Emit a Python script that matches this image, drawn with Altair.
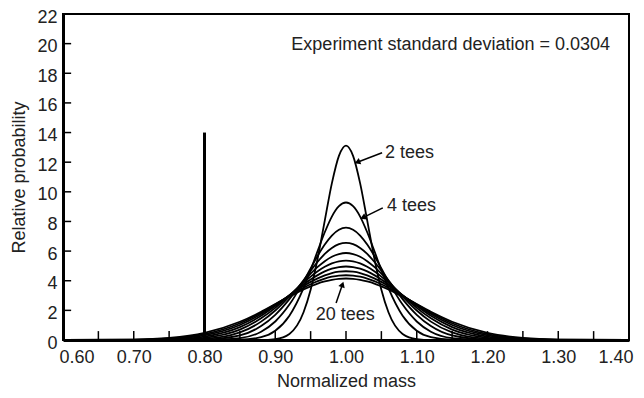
import altair as alt
import pandas as pd

# right half of the symmetric curves (normalized mass >= 1.00)
mass_right = [1.00, 1.01, 1.02, 1.03, 1.04, 1.05, 1.06, 1.08, 1.10, 1.12, 1.15, 1.20, 1.25, 1.30, 1.40]

curve_names = ["2 tees", "4 tees", "6 tees", "8 tees", "10 tees",
               "12 tees", "14 tees", "16 tees", "18 tees", "20 tees"]

tees_2 = [13.12, 12.43, 10.57, 8.06, 5.52, 3.39, 1.87, 0.41, 0.06, 0.0, 0.0, 0.0, 0.0, 0.0, 0.0]
tees_4 = [9.28, 9.03, 8.33, 7.27, 6.02, 4.72, 3.50, 1.64, 0.62, 0.19, 0.02, 0.0, 0.0, 0.0, 0.0]
tees_6 = [7.58, 7.44, 7.05, 6.44, 5.68, 4.83, 3.96, 2.39, 1.25, 0.56, 0.13, 0.01, 0.0, 0.0, 0.0]
tees_8 = [6.56, 6.47, 6.21, 5.81, 5.28, 4.68, 4.03, 2.76, 1.70, 0.94, 0.31, 0.03, 0.0, 0.0, 0.0]
tees_10 = [5.87, 5.80, 5.62, 5.32, 4.93, 4.48, 3.97, 2.94, 1.99, 1.24, 0.51, 0.08, 0.01, 0.0, 0.0]
tees_12 = [5.36, 5.31, 5.17, 4.94, 4.64, 4.28, 3.87, 3.01, 2.17, 1.46, 0.70, 0.15, 0.02, 0.0, 0.0]
tees_14 = [4.96, 4.92, 4.81, 4.63, 4.38, 4.09, 3.75, 3.02, 2.29, 1.63, 0.87, 0.23, 0.04, 0.0, 0.0]
tees_16 = [4.64, 4.61, 4.52, 4.36, 4.16, 3.92, 3.64, 3.01, 2.36, 1.75, 1.01, 0.31, 0.07, 0.01, 0.0]
tees_18 = [4.37, 4.35, 4.27, 4.14, 3.97, 3.76, 3.52, 2.98, 2.40, 1.84, 1.13, 0.39, 0.10, 0.02, 0.0]
tees_20 = [4.15, 4.13, 4.06, 3.95, 3.81, 3.62, 3.41, 2.93, 2.42, 1.90, 1.23, 0.48, 0.14, 0.03, 0.0]

curve_values = [tees_2, tees_4, tees_6, tees_8, tees_10,
                tees_12, tees_14, tees_16, tees_18, tees_20]

x_tick_labels = [0.60, 0.70, 0.80, 0.90, 1.00, 1.10, 1.20, 1.30, 1.40]
y_tick_labels = [0, 2, 4, 6, 8, 10, 12, 14, 16, 18, 20, 22]
x_minor = [0.65, 0.70, 0.75, 0.80, 0.85, 0.90, 0.95, 1.00, 1.05, 1.10, 1.15, 1.20, 1.25, 1.30, 1.35]
y_minor = [2, 4, 6, 8, 10, 12, 14, 16, 18, 20]

marker_x = [0.80]
marker_top = [14]

rows = []
for name, vals in zip(curve_names, curve_values):
    for xr, v in zip(mass_right[::-1], vals[::-1]):
        if xr > 1.0:
            rows.append({"curve": name, "mass": round(2.0 - xr, 2), "prob": v})
    for xr, v in zip(mass_right, vals):
        rows.append({"curve": name, "mass": xr, "prob": v})
df = pd.DataFrame(rows)

FONT = "Liberation Sans"
FS = 18
xs = alt.Scale(domain=[0.6, 1.4], nice=False, zero=False)
ys = alt.Scale(domain=[0, 22], nice=False)
xaxis = alt.Axis(values=x_tick_labels, format=".2f", tickSize=0, grid=False,
                 domainColor="black", domainWidth=3, labelFontSize=FS, labelFont=FONT,
                 labelColor="#222", labelPadding=8, labelFlush=True, labelFlushOffset=4,
                 labelOverlap=False,
                 title="Normalized mass", titleFont=FONT, titleFontSize=FS,
                 titleFontWeight="normal", titleColor="#222", titlePadding=6)
yaxis = alt.Axis(values=y_tick_labels, tickSize=0, grid=False,
                 domainColor="black", domainWidth=3, labelFontSize=FS, labelFont=FONT,
                 labelColor="#222", labelPadding=6, labelFlush=False, labelOverlap=False,
                 labelOffset=3,
                 title="Relative probability", titleFont=FONT, titleFontSize=FS,
                 titleFontWeight="normal", titleColor="#222", titlePadding=8)

X = lambda f="mass": alt.X(f"{f}:Q", scale=xs, axis=xaxis)
Y = lambda f="prob": alt.Y(f"{f}:Q", scale=ys, axis=yaxis)

lines = alt.Chart(df).mark_line(color="black", strokeWidth=1.8, interpolate="monotone").encode(
    x=X(), y=Y(), detail="curve:N")

xt = pd.DataFrame({"mass": x_minor, "prob": [0.0] * len(x_minor), "prob2": [0.6] * len(x_minor)})
xticks = alt.Chart(xt).mark_rule(color="black", strokeWidth=1.5).encode(
    x=X(), y=Y(), y2="prob2:Q")
yt = pd.DataFrame({"prob": y_minor, "mass": [0.6] * len(y_minor), "mass2": [0.6115] * len(y_minor)})
yticks = alt.Chart(yt).mark_rule(color="black", strokeWidth=1.5).encode(
    x=X(), x2="mass2:Q", y=Y())

mk = pd.DataFrame({"mass": marker_x, "prob": [0], "prob2": marker_top})
marker = alt.Chart(mk).mark_rule(color="black", strokeWidth=3).encode(
    x=X(), y=Y(), y2="prob2:Q")

# annotations
arrows = pd.DataFrame({
    "mass": [1.051, 1.052, 0.986],
    "prob": [12.64, 8.92, 2.50],
    "mass2": [1.016, 1.024, 0.995],
    "prob2": [12.0, 8.26, 3.75],
    "ang": [249, 245, 19],
})
arrow_lines = alt.Chart(arrows).mark_rule(color="black", strokeWidth=1.5).encode(
    x=X(), y=Y(), x2="mass2:Q", y2="prob2:Q")
heads = alt.Chart(arrows).mark_point(shape="triangle-up", filled=True, color="black",
                                     size=45, opacity=1).encode(
    x=alt.X("mass2:Q", scale=xs, axis=xaxis), y=alt.Y("prob2:Q", scale=ys, axis=yaxis),
    angle=alt.Angle("ang:Q", scale=None))

labels_left = pd.DataFrame({"mass": [1.055, 1.058], "prob": [12.64, 9.05], "txt": ["2 tees", "4 tees"]})
lab_l = alt.Chart(labels_left).mark_text(align="left", baseline="middle", font=FONT,
                                          fontSize=FS, color="#222").encode(
    x=X(), y=Y(), text="txt:N")
labels_c = pd.DataFrame({"mass": [0.999, 1.148], "prob": [1.72, 19.93],
                         "txt": ["20 tees", "Experiment standard deviation = 0.0304"]})
lab_c = alt.Chart(labels_c).mark_text(align="center", baseline="middle", font=FONT,
                                       fontSize=FS, color="#222").encode(
    x=X(), y=Y(), text="txt:N")

chart = alt.layer(lines, xticks, yticks, marker, arrow_lines, heads, lab_l, lab_c).properties(
    width=566, height=326,
    autosize=alt.AutoSizeParams(type="none"),
    padding={"left": 55, "top": 6, "right": 7, "bottom": 50},
    background="white",
).configure_view(stroke="black", strokeWidth=2)

chart.save("out.html", embed_options={"renderer": "svg", "actions": False})
